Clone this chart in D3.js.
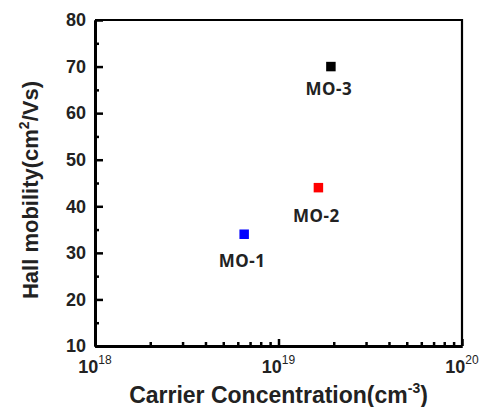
<!DOCTYPE html>
<html>
<head>
<meta charset="utf-8">
<script src="https://cdn.jsdelivr.net/npm/d3@7"></script>
<style>
  body { margin: 0; background: #fff; }
  svg { display: block; }
</style>
</head>
<body>
<div id="chart"></div>
<script>
// samples and measured values
const samples = ["MO-1", "MO-2", "MO-3"];
const carrier = [6.5e18, 1.65e19, 1.93e19];   // cm^-3
const mobility = [34, 44, 70];                // cm^2/Vs
const colors = ["#0000ff", "#ff0000", "#000000"];

const yMajor = [10, 20, 30, 40, 50, 60, 70, 80];
const yMinor = [15, 25, 35, 45, 55, 65, 75];
const xMajor = [1e18, 1e19, 1e20];
const xExp = ["18", "19", "20"];
const xMinor = [2, 3, 4, 5, 6, 7, 8, 9].flatMap(m => [m * 1e18, m * 1e19]);

const width = 484, height = 407;
const margin = {top: 20, right: 22, bottom: 61, left: 95};

const x = d3.scaleLog()
    .domain([1e18, 1e20])
    .range([margin.left, width - margin.right]);
const y = d3.scaleLinear()
    .domain([10, 80])
    .range([height - margin.bottom, margin.top]);

const svg = d3.select("#chart").append("svg")
    .attr("width", width)
    .attr("height", height)
    .style("font-family", "Arial, 'Liberation Sans', sans-serif");

// frame, top and right
svg.append("path")
    .attr("d", `M${x(1e18)},${y(80)}H${x(1e20)}V${y(10)}`)
    .attr("fill", "none")
    .attr("stroke", "#000")
    .attr("stroke-width", 2.2);

// left axis: major ticks, then minor ticks
const gy = svg.append("g")
    .attr("transform", `translate(${margin.left},0)`)
    .call(d3.axisLeft(y).tickValues(yMajor).tickSize(-8).tickSizeOuter(0).tickPadding(9));
svg.append("g")
    .attr("transform", `translate(${margin.left},0)`)
    .call(d3.axisLeft(y).tickValues(yMinor).tickSize(-4).tickSizeOuter(0).tickFormat(""));

// bottom axis
svg.append("g")
    .attr("transform", `translate(0,${height - margin.bottom})`)
    .call(d3.axisBottom(x).tickValues(xMajor).tickSize(-7).tickSizeOuter(0).tickFormat(""));
svg.append("g")
    .attr("transform", `translate(0,${height - margin.bottom})`)
    .call(d3.axisBottom(x).tickValues(xMinor).tickSize(-4).tickSizeOuter(0).tickFormat(""));

svg.selectAll(".domain").attr("stroke", "#000").attr("stroke-width", 3);
svg.selectAll(".tick line").attr("stroke", "#000").attr("stroke-width", 2.5);
gy.selectAll(".tick text")
    .attr("font-size", 18)
    .attr("font-weight", "bold")
    .attr("fill", "#222");

// x tick labels with exponent
const xl = svg.append("g").selectAll("text")
    .data(xMajor)
    .join("text")
    .attr("x", d => x(d))
    .attr("y", height - margin.bottom + 27)
    .attr("text-anchor", "middle")
    .attr("fill", "#222")
    .attr("font-size", 18)
    .attr("font-weight", "bold");
xl.append("tspan").text("10");
xl.append("tspan")
    .attr("dy", -9)
    .attr("font-size", 12)
    .attr("font-weight", "normal")
    .text((d, i) => xExp[i]);

// axis titles
const xt = svg.append("text")
    .attr("x", (x(1e18) + x(1e20)) / 2)
    .attr("y", 403)
    .attr("text-anchor", "middle")
    .attr("font-size", 23)
    .attr("font-weight", "bold")
    .attr("fill", "#222")
    .text("Carrier Concentration(cm");
xt.append("tspan").attr("dy", -10).attr("font-size", 14).text("-3");
xt.append("tspan").attr("dy", 10).text(")");

const yt = svg.append("text")
    .attr("transform", `translate(38,190) rotate(-90)`)
    .attr("text-anchor", "middle")
    .attr("font-size", 22)
    .attr("font-weight", "bold")
    .attr("fill", "#222")
    .text("Hall mobility(cm");
yt.append("tspan").attr("dy", -9).attr("font-size", 14).text("2");
yt.append("tspan").attr("dy", 9).text("/Vs)");

// points
svg.append("g").selectAll("path")
    .data(samples)
    .join("path")
    .attr("transform", (d, i) => `translate(${x(carrier[i])},${y(mobility[i])})`)
    .attr("d", d3.symbol(d3.symbolSquare, 90))
    .attr("fill", (d, i) => colors[i]);

// sample labels
const labelDy = {"MO-1": 33, "MO-2": 34, "MO-3": 28};
svg.append("g").selectAll("text")
    .data(samples)
    .join("text")
    .attr("x", (d, i) => x(carrier[i]) - 2)
    .attr("y", (d, i) => y(mobility[i]) + labelDy[d])
    .attr("text-anchor", "middle")
    .attr("font-family", "'Noto Sans', sans-serif")
    .attr("font-size", 17)
    .attr("font-weight", "bold")
    .attr("letter-spacing", 0.6)
    .attr("fill", "#222")
    .text(d => d);
</script>
</body>
</html>
